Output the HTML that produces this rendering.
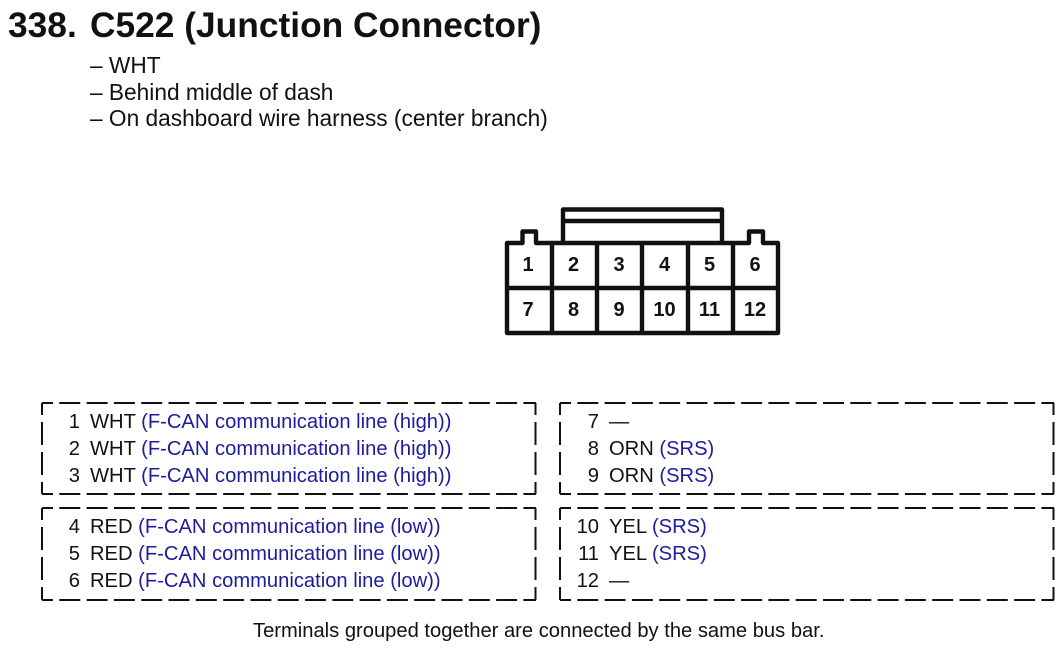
<!DOCTYPE html>
<html lang="en">
<head>
<meta charset="utf-8">
<title>C522 (Junction Connector)</title>
<style>
html,body{margin:0;padding:0;background:#fff;width:1062px;height:654px;overflow:hidden}
svg{display:block}
text{font-family:"Liberation Sans",Arial,sans-serif;fill:#111}
.b{fill:#1c1c9c}
.t{font-size:20.17px}
.n{font-size:20.17px;text-anchor:end}
.p{font-size:20px;font-weight:bold;text-anchor:middle;fill:#111}
.s{font-size:22.7px}
.h{font-size:35.35px;font-weight:bold}
.d{stroke:#111;stroke-width:2;fill:none}
.hd{stroke-dasharray:21 6.3;stroke-dashoffset:10}
.vd{stroke-dasharray:23 7;stroke-dashoffset:11}
.c{stroke:#111;stroke-width:4.4;fill:none;stroke-linejoin:round}
</style>
</head>
<body>
<svg width="1062" height="654" viewBox="0 0 1062 654" xmlns="http://www.w3.org/2000/svg">
<rect width="1062" height="654" fill="#fff"/>

<text class="h" x="8" y="37">338.</text>
<text class="h" x="90" y="37">C522 (Junction Connector)</text>
<text class="s" x="90" y="73">– WHT</text>
<text class="s" x="90" y="100">– Behind middle of dash</text>
<text class="s" x="90" y="126">– On dashboard wire harness (center branch)</text>

<!-- connector -->
<path class="c" d="M507 243H522.500V231.500H536V243H749V231.500H763V243H778V333H507Z"/>
<path class="c" d="M507 288H778M552 243V333M597 243V333M642 243V333M688 243V333M733 243V333"/>
<path class="c" d="M563 243V209.500H722V243M563 221H722"/>
<text class="p" x="528" y="271">1</text>
<text class="p" x="573.500" y="271">2</text>
<text class="p" x="619" y="271">3</text>
<text class="p" x="664.500" y="271">4</text>
<text class="p" x="709.500" y="271">5</text>
<text class="p" x="755" y="271">6</text>
<text class="p" x="528" y="316">7</text>
<text class="p" x="573.500" y="316">8</text>
<text class="p" x="619" y="316">9</text>
<text class="p" x="664.500" y="316">10</text>
<text class="p" x="709.500" y="316">11</text>
<text class="p" x="755" y="316">12</text>

<!-- dashed boxes -->
<g class="d">
<path class="hd" d="M42 403H536M42 494H536M42 508H536M42 600H536"/>
<path class="hd" d="M560 403H1054M560 494H1054M560 508H1054M560 600H1054"/>
<path class="vd" d="M42 403V494M535.500 403V494M42 508V600M535.500 508V600"/>
<path class="vd" d="M560 403V494M1053.500 403V494M560 508V600M1053.500 508V600"/>
<path d="M42 403v9M42 494v-11M42 508v9M42 600v-11M535.500 403v9M535.500 494v-11M535.500 508v9M535.500 600v-11M560 403v9M560 494v-11M560 508v9M560 600v-11M1053.500 403v9M1053.500 494v-11M1053.500 508v9M1053.500 600v-11"/>
</g>

<!-- left group -->
<text class="n" x="80" y="428">1</text><text class="t" x="90" y="428">WHT <tspan class="b">(F-CAN communication line (high))</tspan></text>
<text class="n" x="80" y="455">2</text><text class="t" x="90" y="455">WHT <tspan class="b">(F-CAN communication line (high))</tspan></text>
<text class="n" x="80" y="482">3</text><text class="t" x="90" y="482">WHT <tspan class="b">(F-CAN communication line (high))</tspan></text>
<text class="n" x="80" y="533">4</text><text class="t" x="90" y="533">RED <tspan class="b">(F-CAN communication line (low))</tspan></text>
<text class="n" x="80" y="560">5</text><text class="t" x="90" y="560">RED <tspan class="b">(F-CAN communication line (low))</tspan></text>
<text class="n" x="80" y="587">6</text><text class="t" x="90" y="587">RED <tspan class="b">(F-CAN communication line (low))</tspan></text>

<!-- right group -->
<text class="n" x="599" y="428">7</text><text class="t" x="609" y="428">—</text>
<text class="n" x="599" y="455">8</text><text class="t" x="609" y="455">ORN <tspan class="b">(SRS)</tspan></text>
<text class="n" x="599" y="482">9</text><text class="t" x="609" y="482">ORN <tspan class="b">(SRS)</tspan></text>
<text class="n" x="599" y="533">10</text><text class="t" x="609" y="533">YEL <tspan class="b">(SRS)</tspan></text>
<text class="n" x="599" y="560">11</text><text class="t" x="609" y="560">YEL <tspan class="b">(SRS)</tspan></text>
<text class="n" x="599" y="587">12</text><text class="t" x="609" y="587">—</text>

<text class="t" x="253" y="637">Terminals grouped together are connected by the same bus bar.</text>
</svg>
</body>
</html>
